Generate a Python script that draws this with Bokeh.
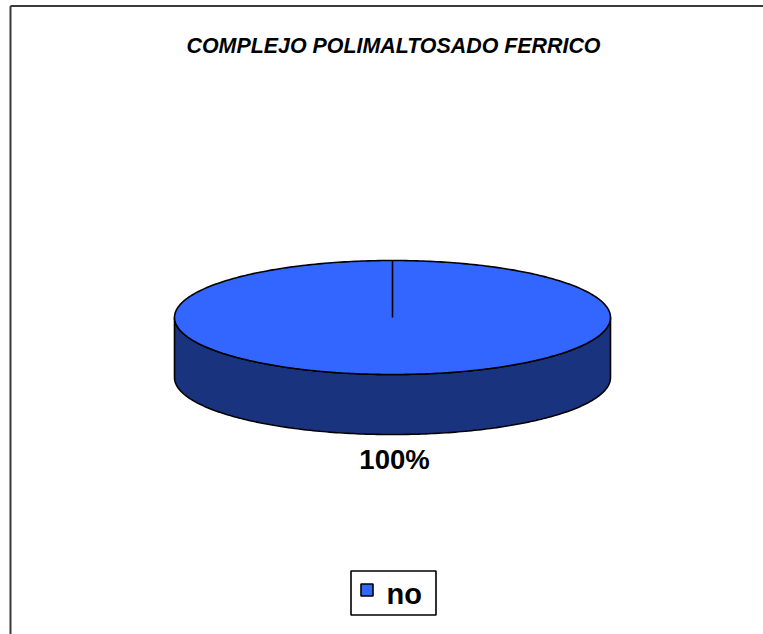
import numpy as np
from bokeh.plotting import figure
from bokeh.models import Range1d
from bokeh.core.properties import value
from bokeh.embed import file_html
from bokeh.resources import INLINE

# ---- data ----
title_text = "COMPLEJO POLIMALTOSADO FERRICO"
categories = ["no"]
values = [100]
top_colors = ["#3366FF"]
side_colors = ["#19337F"]

W, H = 763, 634
p = figure(width=W, height=H, output_backend="svg", toolbar_location=None,
           x_range=Range1d(0, W), y_range=Range1d(H, 0),
           min_border=0, outline_line_color=None)
p.axis.visible = False
p.grid.visible = False
p.background_fill_color = "white"
p.border_fill_color = "white"

FONT = value("Liberation Sans")

# chart border (right/bottom edges fall outside the window)
p.multi_line(xs=[[10, 10], [10, W + 20]], ys=[[H + 20, 5.5], [5.5, 5.5]],
             line_color="#3a3a3a", line_width=2)

# title
p.text(x=[393], y=[45], text=[title_text], text_font=FONT,
       text_font_size="21.4px", text_font_style="bold italic",
       text_align="center", text_baseline="middle", text_color="black")

# ---- 3D pie ----
cx, cy, rx, ry, depth = 392, 317, 218, 57, 60
total = float(sum(values))
fracs = [v / total for v in values]
start = -np.pi / 2  # start at 12 o'clock (screen coords, y down)
angles = []
a = start
for f in fracs:
    angles.append((a, a + 2 * np.pi * f))
    a += 2 * np.pi * f

def ell(t, dy=0.0):
    return cx + rx * np.cos(t), cy + ry * np.sin(t) + dy

# sides (front half only: angles in [0, pi] mod 2pi)
for (a0, a1), sc in zip(angles, side_colors):
    for k in range(-1, 2):
        lo = max(a0, 0 + 2 * np.pi * k)
        hi = min(a1, np.pi + 2 * np.pi * k)
        if hi > lo:
            t = np.linspace(lo, hi, 200)
            xt, yt = ell(t)
            xb, yb = ell(t[::-1], depth)
            p.patch(np.concatenate([xt, xb]), np.concatenate([yt, yb]),
                    fill_color=sc, line_color="black", line_width=1.6)

# tops
for (a0, a1), tc, f in zip(angles, top_colors, fracs):
    t = np.linspace(a0, a1, 400)
    xt, yt = ell(t)
    if f < 1:
        xt = np.concatenate([[cx], xt, [cx]])
        yt = np.concatenate([[cy], yt, [cy]])
    p.patch(xt, yt, fill_color=tc, line_color="black", line_width=1.6)
# slice boundary edges
for (a0, a1) in angles:
    xe, ye = ell(np.array([a0]))
    p.line([cx, xe[0]], [cy, ye[0]], line_color="black", line_width=1.6)

# percentage labels
for (a0, a1), v in zip(angles, values):
    pct = f"{v / total * 100:.0f}%"
    mid = (a0 + a1) / 2 + (np.pi if len(values) == 1 else 0)
    lx = cx + (rx + 0) * np.cos(mid) * (0 if len(values) == 1 else 1)
    ly = cy + ry + depth + 25
    p.text(x=[lx + 2], y=[ly], text=[pct], text_font=FONT, text_font_size="27.5px",
           text_font_style="bold", text_align="center", text_baseline="middle",
           text_color="black")

# ---- legend ----
lx0, ly0, lw, lh = 350.5, 570.5, 85, 44
p.quad(left=[lx0], right=[lx0 + lw], top=[ly0], bottom=[ly0 + lh],
       fill_color="white", line_color="black", line_width=1.6)
for i, (cat, col) in enumerate(zip(categories, top_colors)):
    p.quad(left=[360.5], right=[372.5], top=[583.5], bottom=[595.5],
           fill_color=col, line_color="black", line_width=1.6)
    p.text(x=[386], y=[593], text=[cat], text_font=FONT, text_font_size="29px",
           text_font_style="bold", text_align="left", text_baseline="middle",
           text_color="black")

open("out.html", "w").write(file_html(p, INLINE))
